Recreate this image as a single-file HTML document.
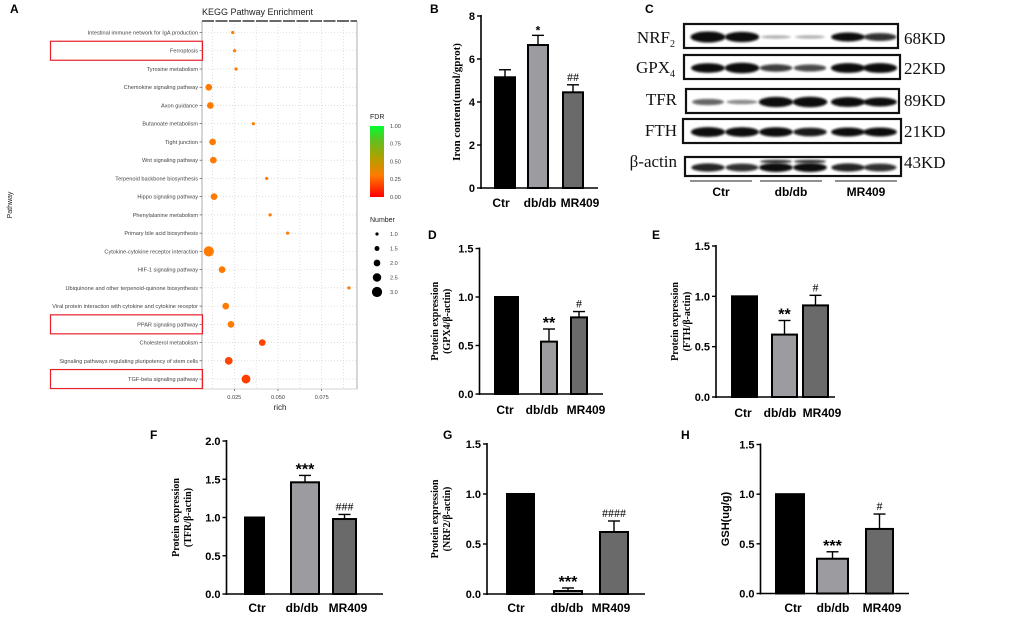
<!DOCTYPE html>
<html><head><meta charset="utf-8"><style>
body{margin:0;background:#fff;}
svg{display:block;}
.s{font-family:"Liberation Sans",sans-serif;}
.r{font-family:"Liberation Serif",serif;}
</style></head><body>
<svg id="fig" width="1010" height="617" viewBox="0 0 1010 617" xmlns="http://www.w3.org/2000/svg">
<defs>
<linearGradient id="fdrGrad" x1="0" y1="1" x2="0" y2="0">
<stop offset="0" stop-color="#ff0000"/><stop offset="0.3" stop-color="#ff7a00"/><stop offset="0.55" stop-color="#b0a000"/><stop offset="0.8" stop-color="#60c020"/><stop offset="1" stop-color="#00ff30"/>
</linearGradient>
<filter id="blur" x="-20%" y="-50%" width="140%" height="200%"><feGaussianBlur stdDeviation="1.1"/></filter>
</defs>
<g id="panelA"></g>
<g id="panelC"></g>
<g id="bars"></g>
</svg>
<script>
const NS="http://www.w3.org/2000/svg";
function mk(parent,tag,attrs,text){const e=document.createElementNS(NS,tag);for(const k in attrs)e.setAttribute(k,attrs[k]);if(text!==undefined)e.textContent=text;parent.appendChild(e);return e;}

// ---------- Panel A data ----------
const keggPathways=["Intestinal immune network for IgA production","Ferroptosis","Tyrosine metabolism","Chemokine signaling pathway","Axon guidance","Butanoate metabolism","Tight junction","Wnt signaling pathway","Terpenoid backbone biosynthesis","Hippo signaling pathway","Phenylalanine metabolism","Primary bile acid biosynthesis","Cytokine-cytokine receptor interaction","HIF-1 signaling pathway","Ubiquinone and other terpenoid-quinone biosynthesis","Viral protein interaction with cytokine and cytokine receptor","PPAR signaling pathway","Cholesterol metabolism","Signaling pathways regulating pluripotency of stem cells","TGF-beta signaling pathway"];
const keggRich=[0.0241,0.0252,0.026,0.0104,0.0113,0.0359,0.0126,0.013,0.0435,0.0134,0.0455,0.0555,0.0104,0.018,0.0906,0.0201,0.0231,0.041,0.0218,0.0317];
const keggNumber=[1,1,1,2,2,1,2,2,1,2,1,1,3,2,1,2,2,2,2.3,2.6];
const keggFDR=[0.3,0.3,0.3,0.3,0.3,0.3,0.3,0.3,0.3,0.3,0.3,0.3,0.3,0.3,0.3,0.3,0.3,0.17,0.17,0.15];
const keggTicks=[0.025,0.05,0.075];
const keggTickLabels=["0.025","0.050","0.075"];
const highlighted=["Ferroptosis","PPAR signaling pathway","TGF-beta signaling pathway"];

const A=document.getElementById('panelA');
const ax=v=>190.6+v*1748, ay=i=>32.5+i*18.24;
const rad=n=>1.6+(n-1)*1.75;
function fdrColor(f){const st=[[0,[255,0,0]],[0.3,[255,122,0]],[0.55,[176,160,0]],[0.8,[96,192,32]],[1,[0,255,48]]];for(let i=0;i<st.length-1;i++){if(f<=st[i+1][0]){const t=(f-st[i][0])/(st[i+1][0]-st[i][0]);const c=st[i][1].map((v,j)=>Math.round(v+(st[i+1][1][j]-v)*t));return `rgb(${c})`;}}return 'rgb(0,255,48)';}
let t=mk(A,'text',{x:10,y:13,'font-size':12,'font-weight':'bold',class:'s'},'A');
t=mk(A,'text',{x:202,y:15,'font-size':9,fill:'#222',class:'s'},'KEGG Pathway Enrichment');
const plotL=202,plotR=357,plotT=21,plotB=389;
for(let v=0.0125;v<0.1;v+=0.0125){const x=ax(v);if(x>plotL&&x<plotR)mk(A,'line',{x1:x,y1:plotT,x2:x,y2:plotB,stroke:'#ccc','stroke-width':0.6,'stroke-dasharray':'1,2'});}
keggPathways.forEach((p,i)=>{mk(A,'line',{x1:plotL,y1:ay(i),x2:plotR,y2:ay(i),stroke:'#ccc','stroke-width':0.6,'stroke-dasharray':'1,2'});});
mk(A,'line',{x1:plotL,y1:plotT,x2:plotR,y2:plotT,stroke:'#111','stroke-width':1.2,'stroke-dasharray':'12,1.5'});
mk(A,'line',{x1:plotL,y1:plotT,x2:plotL,y2:plotB,stroke:'#777','stroke-width':0.6});
mk(A,'line',{x1:plotR,y1:plotT,x2:plotR,y2:plotB,stroke:'#777','stroke-width':0.6});
mk(A,'line',{x1:plotL,y1:plotB,x2:plotR,y2:plotB,stroke:'#aaa','stroke-width':0.6});
keggPathways.forEach((p,i)=>{
  const l=mk(A,'text',{x:198,y:ay(i)+2,'font-size':5.6,fill:'#444','text-anchor':'end',class:'s'},p);
  
  mk(A,'line',{x1:199.5,y1:ay(i),x2:plotL,y2:ay(i),stroke:'#444','stroke-width':0.6});
  const c=mk(A,'circle',{cx:ax(keggRich[i]),cy:ay(i),r:rad(keggNumber[i]),fill:fdrColor(keggFDR[i])});
  
  if(highlighted.includes(p)){const b=mk(A,'rect',{x:50.5,y:ay(i)-9.5,width:152,height:19,fill:'none',stroke:'#e8202a','stroke-width':1.2});}
});
keggTicks.forEach((v,i)=>{mk(A,'line',{x1:ax(v),y1:plotB,x2:ax(v),y2:plotB+2,stroke:'#444','stroke-width':0.6});const l=mk(A,'text',{x:ax(v),y:plotB+10,'font-size':5.6,fill:'#444','text-anchor':'middle',class:'s'},keggTickLabels[i]);});
t=mk(A,'text',{x:280,y:410,'font-size':8,fill:'#222','text-anchor':'middle',class:'s'},'rich');
t=mk(A,'text',{x:0,y:0,'font-size':7,fill:'#222','text-anchor':'middle',class:'s',transform:'translate(12,205) rotate(-90)'},'Pathway');
const fdrTicks=[1.0,0.75,0.5,0.25,0];
t=mk(A,'text',{x:370,y:119,'font-size':7,fill:'#222',class:'s'},'FDR');
const gb=mk(A,'rect',{x:370,y:126,width:14,height:71,fill:'url(#fdrGrad)'});
fdrTicks.forEach((v,i)=>{const l=mk(A,'text',{x:390,y:128+i*17.7,'font-size':5.6,fill:'#444',class:'s'},v.toFixed(2));});
const numLegend=[1.0,1.5,2.0,2.5,3.0];
t=mk(A,'text',{x:370,y:222,'font-size':7,fill:'#222',class:'s'},'Number');
numLegend.forEach((n,i)=>{const y=234+i*14.5;mk(A,'circle',{cx:377,cy:y,r:rad(n),fill:'#000'});const l=mk(A,'text',{x:390,y:y+2,'font-size':5.6,fill:'#444',class:'s'},n.toFixed(1));});

// ---------- Panel C (blots) ----------
const blotNames=["NRF2","GPX4","TFR","FTH","β-actin"];
const blotKD=["68KD","22KD","89KD","21KD","43KD"];
const blotIntensity=[[1,0.9,0.05,0.05,0.75,0.6],[0.8,0.95,0.55,0.5,0.85,0.85],[0.4,0.2,0.9,0.95,0.85,0.75],[0.85,0.8,0.8,0.7,0.75,0.75],[0.65,0.6,0.75,0.75,0.65,0.6]];
const C=document.getElementById('panelC');
t=mk(C,'text',{x:645,y:13,'font-size':12,'font-weight':'bold',class:'s'},'C');
const boxes=[[684,24,214,24],[684,55,216,24],[686,89,213,24],[683,119,218,24],[685,157,216,19]];
const labelY=[43,73,105,136,167];
const lanes=[708,742,776,810,848,880];
blotNames.forEach((n,b)=>{
  const [x,y,w,h]=boxes[b];
  const g=mk(C,'g',{});
  mk(g,'rect',{x:x,y:y,width:w,height:h,fill:'#fff',stroke:'#111','stroke-width':2.2});
  const cy=y+h/2+1;
  if(b===4){[776,810].forEach(lx=>mk(g,'ellipse',{cx:lx,cy:cy-6,rx:16,ry:1.8,fill:'#333',filter:'url(#blur)'}));}
  lanes.forEach((lx,i)=>{const v=blotIntensity[b][i];mk(g,'ellipse',{cx:lx,cy:cy,rx:15+v*2.5,ry:1.5+v*4,fill:`rgba(10,10,10,${Math.min(1,0.25+v)})`,filter:'url(#blur)'});});
  let lab;
  if(n==="NRF2"||n==="GPX4"){lab=mk(C,'text',{x:675,y:labelY[b],'font-size':17,'text-anchor':'end',class:'r',fill:'#111'});lab.textContent=n.slice(0,3);mk(lab,'tspan',{'font-size':10,dy:4},n.slice(3));}
  else lab=mk(C,'text',{x:677,y:labelY[b],'font-size':17,'text-anchor':'end',class:'r',fill:'#111'},n);
  
  const kd=mk(C,'text',{x:904,y:labelY[b]+1,'font-size':17,class:'r',fill:'#111'},blotKD[b]);
});
const groups=["Ctr","db/db","MR409"];
[[690,752],[760,822],[835,897]].forEach((s,i)=>{mk(C,'line',{x1:s[0],y1:181,x2:s[1],y2:181,stroke:'#222','stroke-width':1});const l=mk(C,'text',{x:(s[0]+s[1])/2,y:196,'font-size':12,'font-weight':'bold','text-anchor':'middle',class:'s'},groups[i]);});

// ---------- Bar charts data ----------
const barCategories=["Ctr","db/db","MR409"];
const ironValues=[5.15,6.65,4.45];const ironErrors=[0.35,0.45,0.35];const ironTicks=[0,2,4,6,8];const ironMarks=["","*","##"];
const gpx4Values=[1.0,0.54,0.79];const gpx4Errors=[0,0.13,0.06];const gpx4Ticks=[0,0.5,1.0,1.5];const gpx4Marks=["","**","#"];
const fthValues=[1.0,0.62,0.91];const fthErrors=[0,0.14,0.1];const fthTicks=[0,0.5,1.0,1.5];const fthMarks=["","**","#"];
const tfrValues=[1.0,1.46,0.98];const tfrErrors=[0,0.09,0.06];const tfrTicks=[0,0.5,1.0,1.5,2.0];const tfrMarks=["","***","###"];
const nrf2Values=[1.0,0.03,0.62];const nrf2Errors=[0,0.03,0.11];const nrf2Ticks=[0,0.5,1.0,1.5];const nrf2Marks=["","***","####"];
const gshValues=[1.0,0.35,0.65];const gshErrors=[0,0.07,0.15];const gshTicks=[0,0.5,1.0,1.5];const gshMarks=["","***","#"];
const barColors=["#000","#9b9ba0","#6a6a6a"];

const BG=document.getElementById('bars');
function barChart(o){
  const g=mk(BG,'g',{});
  const max=o.ticks[o.ticks.length-1];
  const y=v=>o.y0-(v/max)*(o.y0-o.yTop);
  let l=mk(g,'text',{x:o.letter[0],y:o.letter[1],'font-size':12,'font-weight':'bold',class:'s'},o.letterText);
  mk(g,'line',{x1:o.ax,y1:o.yTop-1,x2:o.ax,y2:o.y0+1,stroke:'#000','stroke-width':1.6});
  mk(g,'line',{x1:o.ax-1,y1:o.y0,x2:o.xEnd,y2:o.y0,stroke:'#000','stroke-width':1.6});
  o.ticks.forEach(v=>{mk(g,'line',{x1:o.ax-4,y1:y(v),x2:o.ax,y2:y(v),stroke:'#000','stroke-width':1.4});const tl=mk(g,'text',{x:o.ax-6,y:y(v)+4,'font-size':11,'font-weight':'bold','text-anchor':'end',class:'s'},o.fmt(v));});
  o.values.forEach((v,i)=>{
    const [x1,x2]=o.bars[i];const cx=(x1+x2)/2;const top=y(v);
    if(o.errors[i]>0){const et=y(v+o.errors[i]);mk(g,'line',{x1:cx,y1:top,x2:cx,y2:et,stroke:'#000','stroke-width':1.4});mk(g,'line',{x1:cx-6,y1:et,x2:cx+6,y2:et,stroke:'#000','stroke-width':1.4});}
    const r=mk(g,'rect',{x:x1+1,y:top,width:x2-x1-2,height:o.y0-top,fill:barColors[i],stroke:'#000','stroke-width':2});
    
    if(o.marks[i]){const et=y(v+o.errors[i]);const isStar=o.marks[i][0]==='*';const m=mk(g,'text',{x:cx,y:et-(isStar?1:4),'font-size':isStar?(o.markSmall?12:16):12,'font-weight':isStar?'bold':'normal','text-anchor':'middle',class:isStar?'s':'r'},o.marks[i]);}
    const xl=mk(g,'text',{x:o.labelX[i],y:o.labelY,'font-size':12,'font-weight':'bold','text-anchor':'middle',class:'s'},barCategories[i]);
  });
  const yc=(o.y0+o.yTop)/2;
  o.ylabel.forEach((s,k)=>{const yl=mk(g,'text',{x:0,y:0,'font-size':o.ylSize||10.5,'font-weight':'bold','text-anchor':'middle',class:o.ylSans?'s':'r',transform:`translate(${o.ylX+k*12},${o.ylY||yc}) rotate(-90)`},s);});
}
const f1=v=>v.toFixed(1), f0=v=>String(v);
barChart({name:'iron-content-chart',letterText:'B',letter:[430,13],ax:481,y0:188,yTop:16,xEnd:598,ticks:ironTicks,fmt:f0,values:ironValues,errors:ironErrors,marks:ironMarks,markSmall:true,bars:[[494,516],[527,549],[562,584]],labelX:[501,540,580],labelY:207,ylabel:['Iron content(umol/gprot)'],ylX:460,ylSize:11});
barChart({name:'gpx4-chart',letterText:'D',letter:[428,239],ax:479.5,y0:394,yTop:248.5,xEnd:603,ticks:gpx4Ticks,fmt:f1,values:gpx4Values,errors:gpx4Errors,marks:gpx4Marks,bars:[[494,519],[540,558],[570,588]],labelX:[505,542,586],labelY:414,ylabel:['Protein expression','(GPX4/β-actin)'],ylX:438,ylSize:10});
barChart({name:'fth-chart',letterText:'E',letter:[652,239],ax:716,y0:397,yTop:246,xEnd:835,ticks:fthTicks,fmt:f1,values:fthValues,errors:fthErrors,marks:fthMarks,bars:[[731,758],[771,798],[802,829]],labelX:[743,780,822],labelY:417,ylabel:['Protein expression','(FTH/β-actin)'],ylX:678,ylSize:10});
barChart({name:'tfr-chart',letterText:'F',letter:[150,439],ax:226.5,y0:594,yTop:441,xEnd:383,ticks:tfrTicks,fmt:f1,values:tfrValues,errors:tfrErrors,marks:tfrMarks,bars:[[244,265],[290,320],[332,357]],labelX:[257,302,348],labelY:612,ylabel:['Protein expression','(TFR/β-actin)'],ylX:179,ylSize:10});
barChart({name:'nrf2-chart',letterText:'G',letter:[443,439],ax:487,y0:594,yTop:444,xEnd:645,ticks:nrf2Ticks,fmt:f1,values:nrf2Values,errors:nrf2Errors,marks:nrf2Marks,bars:[[506,535],[553,583],[599,629]],labelX:[516,567,611],labelY:612,ylabel:['Protein expression','(NRF2/β-actin)'],ylX:438,ylSize:10});
barChart({name:'gsh-chart',letterText:'H',letter:[681,439],ax:760.5,y0:593.5,yTop:444.5,xEnd:909,ticks:gshTicks,fmt:f1,values:gshValues,errors:gshErrors,marks:gshMarks,bars:[[775,805],[816,849],[865,894]],labelX:[793,833,882],labelY:612,ylabel:['GSH(ug/g)'],ylX:729,ylSize:11,ylSans:true});
</script>
</body></html>
